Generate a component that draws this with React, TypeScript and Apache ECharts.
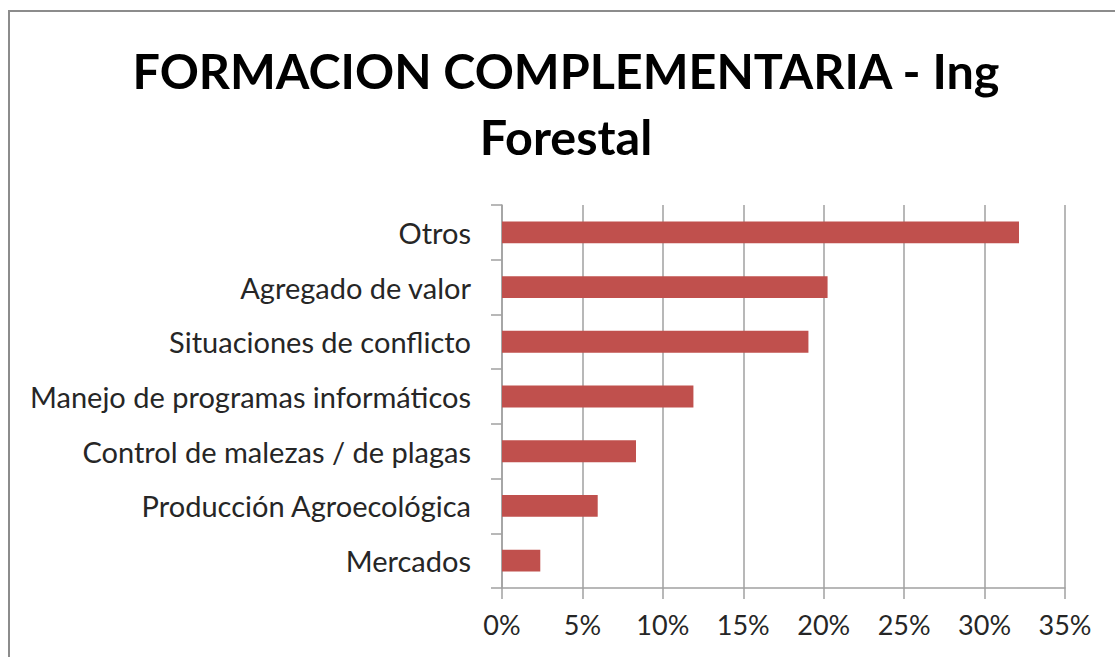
import React, { useEffect, useRef } from "react";
import * as echarts from "echarts";

const categories = [
  "Otros",
  "Agregado de valor",
  "Situaciones de conflicto",
  "Manejo de programas informáticos",
  "Control de malezas / de plagas",
  "Producción Agroecológica",
  "Mercados",
];
const values = [32.14, 20.24, 19.05, 11.9, 8.33, 5.95, 2.38];
const titleText = "FORMACION COMPLEMENTARIA - Ing\nForestal";

export default function App() {
  const ref = useRef<HTMLDivElement>(null);
  useEffect(() => {
    document.body.style.margin = "0";
    const chart = echarts.init(ref.current!, null, { renderer: "svg" });
    const font = "Lato, 'Open Sans', sans-serif";
    chart.setOption({
      animation: false,
      backgroundColor: "#ffffff",
      title: {
        text: titleText,
        left: 566,
        top: 37,
        padding: 0,
        textAlign: "center",
        textStyle: {
          fontFamily: font,
          fontWeight: "bold",
          fontSize: 48.5,
          lineHeight: 66,
          color: "#000000",
        },
      },
      graphic: [
        {
          type: "rect",
          shape: { x: 9, y: 11, width: 1130, height: 680 },
          style: { fill: "none", stroke: "#8c8c8c", lineWidth: 2 },
          silent: true,
        },
      ],
      grid: { left: 502, right: 50, top: 205, bottom: 69, containLabel: false },
      xAxis: {
        type: "value",
        min: 0,
        max: 35,
        interval: 5,
        axisLine: { show: true, lineStyle: { color: "#a0a0a0", width: 1.5 } },
        axisTick: { show: true, length: 11, lineStyle: { color: "#a0a0a0", width: 1.5 } },
        splitLine: { show: true, lineStyle: { color: "#a0a0a0", width: 1.5 } },
        axisLabel: {
          formatter: "{value}%",
          fontFamily: font,
          fontSize: 27,
          color: "#262626",
          margin: 23,
        },
      },
      yAxis: {
        type: "category",
        inverse: true,
        data: categories,
        axisLine: { show: true, lineStyle: { color: "#a0a0a0", width: 1.5 } },
        axisTick: { show: true, length: 11, lineStyle: { color: "#a0a0a0", width: 1.5 } },
        axisLabel: {
          fontFamily: font,
          fontSize: 29,
          color: "#262626",
          margin: 31,
        },
      },
      series: [
        {
          type: "bar",
          data: values,
          barWidth: "40%",
          itemStyle: { color: "#c0504d" },
        },
      ],
    });
    return () => chart.dispose();
  }, []);
  return <div ref={ref} style={{ width: 1115, height: 657 }} />;
}
